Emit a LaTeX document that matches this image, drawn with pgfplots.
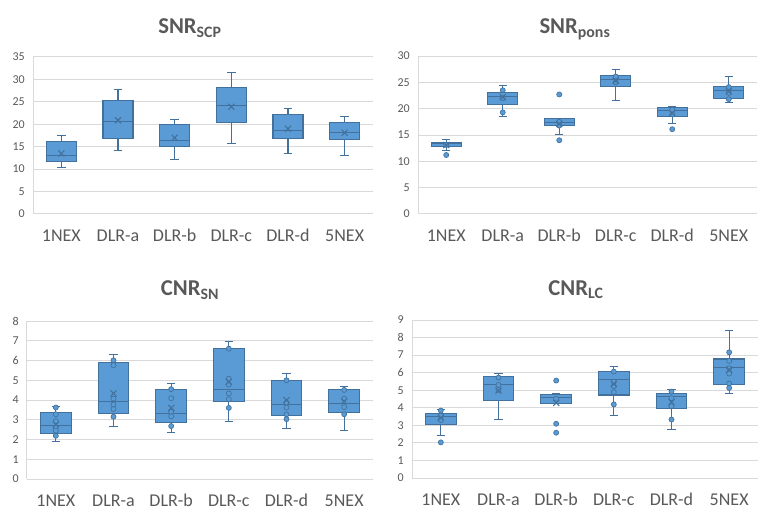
\documentclass[border=0pt]{standalone}
\usepackage{fontspec}
\setmainfont{Carlito}
\usepackage{pgfplots}
\pgfplotsset{compat=1.18}
\usepgfplotslibrary{statistics}
\definecolor{boxfill}{HTML}{5B9BD5}
\definecolor{boxedge}{HTML}{41719C}
\definecolor{gridc}{HTML}{D9D9D9}
\definecolor{txt}{HTML}{595959}
\newcommand{\bx}[6]{\addplot[fill=boxfill, draw=boxedge, line width=0.8pt,
  boxplot prepared={draw direction=y, draw position=#1, lower whisker=#2, lower quartile=#3, median=#4,
  upper quartile=#5, upper whisker=#6, box extend=0.53, whisker extend=0.15}] coordinates {};}
\pgfplotsset{
  excel/.style={
    scale only axis, anchor=south west,
    xmin=0.5, xmax=6.5, ymin=0,
    xtick={1,2,3,4,5,6},
    xticklabels={1NEX,DLR-a,DLR-b,DLR-c,DLR-d,5NEX},
    axis x line=bottom, axis y line=left,
    axis line style={-, draw=gridc, line width=0.75pt},
    ymajorgrids, grid style={draw=gridc, line width=0.75pt},
    major tick length=0pt,
    /pgf/number format/assume math mode=true,
    xticklabel style={font=\fontsize{13.5}{15}\selectfont, text=txt, anchor=base, yshift=-20.5pt},
    yticklabel style={font=\fontsize{9}{10}\selectfont, text=txt, anchor=east, inner sep=0pt, xshift=-6pt},
    clip=false,
  },
  meanx/.style={only marks, mark=x, mark size=3.2pt, draw=boxedge, line width=0.8pt},
  pts/.style={only marks, mark=*, mark size=1.9pt, mark options={fill=boxfill, draw=boxedge, line width=0.5pt}},
}
\begin{document}
\begin{tikzpicture}
\path[use as bounding box] (0,0) rectangle (573.75pt,-393pt);
\node[anchor=base, text=txt, font=\fontsize{17}{19}\bfseries] at (142.5pt,-25.5pt) {SNR\textsubscript{SCP}};
\node[anchor=base, text=txt, font=\fontsize{17}{19}\bfseries] at (431.25pt,-25.5pt) {SNR\textsubscript{pons}};
\node[anchor=base, text=txt, font=\fontsize{17}{19}\bfseries] at (142.5pt,-222pt) {CNR\textsubscript{SN}};
\node[anchor=base, text=txt, font=\fontsize{17}{19}\bfseries] at (432pt,-221.5pt) {CNR\textsubscript{LC}};

% SNR_SCP
\begin{axis}[excel, at={(24.75pt,-160.5pt)}, width=255pt, height=117.75pt,
  ymax=35, ytick={0,5,...,35}]
\bx{1}{10.4}{11.8}{13.1}{16.1}{17.5}
\bx{2}{14.2}{16.9}{20.6}{25.3}{27.8}
\bx{3}{12.2}{15.1}{16.4}{20.0}{21.1}
\bx{4}{15.8}{20.4}{24.2}{28.1}{31.5}
\bx{5}{13.5}{16.9}{18.7}{22.2}{23.5}
\bx{6}{13.0}{16.7}{18.1}{20.4}{21.8}
\addplot[meanx] coordinates {(1,13.5) (2,20.9) (3,17.0) (4,23.9) (5,19.0) (6,18.1)};
\end{axis}

% SNR_pons
\begin{axis}[excel, at={(313.5pt,-160.5pt)}, width=254.25pt, height=118.5pt,
  ymax=30, ytick={0,5,...,30}]
\bx{1}{12.1}{12.8}{13.3}{13.6}{14.2}
\bx{2}{18.5}{20.8}{22.3}{23.1}{24.4}
\bx{3}{15.1}{16.8}{17.3}{18.2}{18.2}
\bx{4}{21.6}{24.2}{25.6}{26.3}{27.5}
\bx{5}{17.2}{18.5}{19.6}{20.3}{20.4}
\bx{6}{21.2}{21.9}{23.5}{24.2}{26.1}
\addplot[pts] coordinates {(1,11.2) (1,13.1) (2,23.5) (2,19.3) (2,22.0) (3,22.7) (3,14.0) (3,17.5) (3,16.8)
  (4,26.1) (4,25.0) (5,16.1) (5,19.8) (5,18.9) (6,21.8) (6,24.1) (6,23.0)};
\addplot[meanx] coordinates {(1,13.1) (2,22.2) (3,17.1) (4,25.3) (5,19.1) (6,23.3)};
\end{axis}

% CNR_SN
\begin{axis}[excel, at={(20.25pt,-359.25pt)}, width=259.5pt, height=118.5pt,
  ymax=8, ytick={0,1,...,8}]
\bx{1}{1.92}{2.31}{2.69}{3.37}{3.69}
\bx{2}{2.68}{3.32}{3.94}{5.91}{6.31}
\bx{3}{2.37}{2.86}{3.33}{4.55}{4.83}
\bx{4}{2.93}{3.91}{4.55}{6.60}{6.97}
\bx{5}{2.58}{3.22}{3.77}{5.00}{5.35}
\bx{6}{2.47}{3.37}{3.82}{4.55}{4.70}
\addplot[pts] coordinates {(1,3.62) (1,3.28) (1,2.93) (1,2.61) (1,2.45) (1,2.19)
  (2,6.01) (2,5.76) (2,4.07) (2,3.77) (2,3.54) (2,3.15)
  (3,4.55) (3,4.09) (3,3.40) (3,3.17) (3,2.68)
  (4,6.60) (4,5.08) (4,4.78) (4,4.33) (4,4.04) (4,3.60)
  (5,5.00) (5,3.87) (5,3.62) (5,3.27) (5,3.03)
  (6,4.51) (6,4.07) (6,3.64) (6,3.28)};
\addplot[meanx] coordinates {(1,2.76) (2,4.33) (3,3.60) (4,4.92) (5,3.99) (6,3.94)};
\end{axis}

% CNR_LC
\begin{axis}[excel, at={(309pt,-358.5pt)}, width=259.5pt, height=118.5pt,
  ymax=9, ytick={0,1,...,9}]
\bx{1}{2.42}{3.03}{3.52}{3.66}{3.90}
\bx{2}{3.35}{4.43}{5.32}{5.78}{5.95}
\bx{3}{4.22}{4.22}{4.58}{4.75}{4.80}
\bx{4}{3.56}{4.73}{5.63}{6.06}{6.34}
\bx{5}{2.77}{3.94}{4.62}{4.79}{5.04}
\bx{6}{4.81}{5.32}{6.29}{6.78}{8.39}
\addplot[pts] coordinates {(1,2.03) (1,3.84) (1,3.30) (1,3.55)
  (2,5.72) (2,5.30) (2,5.02)
  (3,5.55) (3,3.09) (3,2.58) (3,4.51)
  (4,6.06) (4,5.49) (4,5.23) (4,4.89) (4,4.19)
  (5,4.92) (5,4.55) (5,4.09) (5,3.33)
  (6,7.16) (6,6.67) (6,6.25) (6,5.95) (6,5.38) (6,5.13)};
\addplot[meanx] coordinates {(1,3.43) (2,4.98) (3,4.28) (4,5.36) (5,4.32) (6,6.17)};
\end{axis}
\end{tikzpicture}
\end{document}
